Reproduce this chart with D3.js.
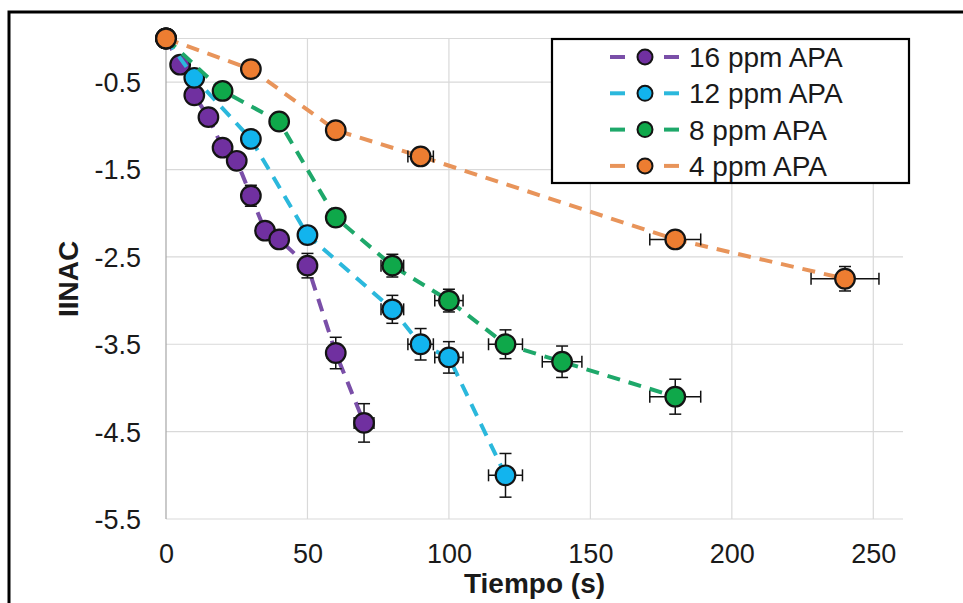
<!DOCTYPE html>
<html>
<head>
<meta charset="utf-8">
<script src="https://cdn.jsdelivr.net/npm/d3@7/dist/d3.min.js"></script>
<style>
  html, body { margin: 0; padding: 0; background: #ffffff; }
  svg { display: block; }
  text { font-family: Arial, "Liberation Sans", Helvetica, sans-serif; fill: #1a1a1a; }
</style>
</head>
<body>
<svg id="chart" width="963" height="603"></svg>
<script>
// ---- data ----
const seriesNames = ["16 ppm APA", "12 ppm APA", "8 ppm APA", "4 ppm APA"];
const seriesColors = ["#7030A0", "#12B4EE", "#0FA84A", "#ED7D31"];
const lineColors = ["#7A4FA8", "#2BB8DC", "#1EA86A", "#E8945A"];

const time16 = [0, 5, 10, 15, 20, 25, 30, 35, 40, 50, 60, 70];
const inac16 = [0, -0.3, -0.65, -0.9, -1.25, -1.4, -1.8, -2.2, -2.3, -2.6, -3.6, -4.4];
const yerr16 = [0, 0.04, 0.04, 0.05, 0.05, 0.06, 0.12, 0.08, 0.08, 0.14, 0.18, 0.22];
const xerr16 = [0, 0.25, 0.5, 0.75, 1, 1.25, 1.5, 1.75, 2, 2.5, 3, 3.5];

const time12 = [0, 10, 30, 50, 80, 90, 100, 120];
const inac12 = [0, -0.45, -1.15, -2.25, -3.1, -3.5, -3.65, -5.0];
const yerr12 = [0, 0.05, 0.06, 0.08, 0.16, 0.18, 0.18, 0.25];
const xerr12 = [0, 0.5, 1.5, 2.5, 4, 4.5, 5, 6];

const time8 = [0, 20, 40, 60, 80, 100, 120, 140, 180];
const inac8 = [0, -0.6, -0.95, -2.05, -2.6, -3.0, -3.5, -3.7, -4.1];
const yerr8 = [0, 0.05, 0.06, 0.08, 0.13, 0.13, 0.165, 0.18, 0.2];
const xerr8 = [0, 1, 2, 3, 4, 5, 6, 7, 9];

const time4 = [0, 30, 60, 90, 180, 240];
const inac4 = [0, -0.35, -1.05, -1.35, -2.3, -2.75];
const yerr4 = [0, 0.04, 0.05, 0.06, 0.08, 0.14];
const xerr4 = [0, 1.5, 3, 4.5, 9, 12];

const xTicks = [0, 50, 100, 150, 200, 250];
const yTicks = [-0.5, -1.5, -2.5, -3.5, -4.5, -5.5];
const xTitle = "Tiempo (s)";
const yTitle = "IINAC";

// ---- build ----
const series = [
  { t: time16, v: inac16, ye: yerr16, xe: xerr16 },
  { t: time12, v: inac12, ye: yerr12, xe: xerr12 },
  { t: time8, v: inac8, ye: yerr8, xe: xerr8 },
  { t: time4, v: inac4, ye: yerr4, xe: xerr4 }
].map((s, i) => ({
  name: seriesNames[i], color: seriesColors[i], lineColor: lineColors[i],
  pts: s.t.map((t, j) => ({ x: t, y: s.v[j], ye: s.ye[j], xe: s.xe[j] }))
}));

const svg = d3.select("#chart");
const plot = { left: 166, right: 903, top: 38.5, bottom: 519 };

const x = d3.scaleLinear().domain([0, 260.5]).range([plot.left, plot.right]);
const y = d3.scaleLinear().domain([-5.5, 0]).range([plot.bottom, plot.top]);

svg.append("rect").attr("width", 963).attr("height", 603).attr("fill", "#fff");

// outer frame (cropped)
svg.append("path")
  .attr("d", "M9,603 L9,12 L963,12")
  .attr("fill", "none").attr("stroke", "#000").attr("stroke-width", 3);

// gridlines
const grid = svg.append("g");
grid.selectAll("line.h").data(yTicks.concat([0])).enter().append("line")
  .attr("x1", plot.left).attr("x2", plot.right)
  .attr("y1", d => y(d)).attr("y2", d => y(d))
  .attr("stroke", "#d9d9d9").attr("stroke-width", 1.2);
grid.selectAll("line.v").data(xTicks.filter(d => d > 0)).enter().append("line")
  .attr("x1", d => x(d)).attr("x2", d => x(d))
  .attr("y1", plot.top).attr("y2", plot.bottom)
  .attr("stroke", "#d9d9d9").attr("stroke-width", 1.2);
// left axis line
svg.append("line").attr("x1", x(0)).attr("x2", x(0))
  .attr("y1", plot.top).attr("y2", plot.bottom)
  .attr("stroke", "#a6a6a6").attr("stroke-width", 1.2);

// axes (labels only) via d3 axes
const yAxis = svg.append("g").attr("transform", `translate(${plot.left - 25},0)`)
  .call(d3.axisLeft(y).tickValues(yTicks).tickSize(0).tickPadding(0).tickFormat(d => d.toFixed(1)));
yAxis.select(".domain").remove();
yAxis.selectAll("text").attr("font-size", 27).attr("fill", "#1a1a1a")
  .attr("font-family", "Arial, 'Liberation Sans', sans-serif").attr("dy", "0.35em");

const xAxis = svg.append("g").attr("transform", `translate(0,${plot.bottom + 44})`)
  .call(d3.axisBottom(x).tickValues(xTicks).tickSize(0).tickPadding(0).tickFormat(d => String(d)));
xAxis.select(".domain").remove();
xAxis.selectAll("text").attr("font-size", 27).attr("fill", "#1a1a1a")
  .attr("font-family", "Arial, 'Liberation Sans', sans-serif").attr("dy", 0);

// axis titles
svg.append("text").attr("x", (plot.left + plot.right) / 2).attr("y", 593)
  .attr("text-anchor", "middle").attr("font-size", 28).attr("font-weight", "bold").text(xTitle);
svg.append("text").attr("transform", "translate(78,279) rotate(-90)")
  .attr("text-anchor", "middle").attr("font-size", 28).attr("font-weight", "bold").text(yTitle);

// series
const line = d3.line().x(d => x(d.x)).y(d => y(d.y));
const cap = 6;
series.forEach(s => {
  const g = svg.append("g");
  g.append("path").datum(s.pts).attr("d", line)
    .attr("fill", "none").attr("stroke", s.lineColor).attr("stroke-width", 4)
    .attr("stroke-dasharray", "13,9");
  const eb = g.append("g").attr("stroke", "#111").attr("stroke-width", 1.5).attr("fill", "none");
  s.pts.filter(d => d.ye > 0 || d.xe > 0).forEach(d => {
    const cx = x(d.x), cy = y(d.y);
    const y1 = y(d.y + d.ye), y2 = y(d.y - d.ye);
    const x1 = x(d.x - d.xe), x2 = x(d.x + d.xe);
    eb.append("line").attr("x1", cx).attr("x2", cx).attr("y1", y1).attr("y2", y2);
    eb.append("line").attr("x1", cx - cap).attr("x2", cx + cap).attr("y1", y1).attr("y2", y1);
    eb.append("line").attr("x1", cx - cap).attr("x2", cx + cap).attr("y1", y2).attr("y2", y2);
    eb.append("line").attr("x1", x1).attr("x2", x2).attr("y1", cy).attr("y2", cy);
    eb.append("line").attr("x1", x1).attr("x2", x1).attr("y1", cy - cap).attr("y2", cy + cap);
    eb.append("line").attr("x1", x2).attr("x2", x2).attr("y1", cy - cap).attr("y2", cy + cap);
  });
  g.selectAll("circle").data(s.pts).enter().append("circle")
    .attr("cx", d => x(d.x)).attr("cy", d => y(d.y)).attr("r", 9.8)
    .attr("fill", s.color).attr("stroke", "#141414").attr("stroke-width", 2.2);
});

// legend
const lg = svg.append("g");
lg.append("rect").attr("x", 552).attr("y", 39).attr("width", 357).attr("height", 144)
  .attr("fill", "#fff").attr("stroke", "#000").attr("stroke-width", 2.2);
series.forEach((s, i) => {
  const cy = 57 + i * 36.3;
  const row = lg.append("g");
  row.append("line").attr("x1", 610).attr("x2", 625).attr("y1", cy).attr("y2", cy)
    .attr("stroke", s.lineColor).attr("stroke-width", 4);
  row.append("line").attr("x1", 664).attr("x2", 679).attr("y1", cy).attr("y2", cy)
    .attr("stroke", s.lineColor).attr("stroke-width", 4);
  row.append("circle").attr("cx", 645).attr("cy", cy).attr("r", 7.5)
    .attr("fill", s.color).attr("stroke", "#141414").attr("stroke-width", 2);
  row.append("text").attr("x", 689).attr("y", cy + 10).attr("font-size", 28).text(s.name);
});
</script>
</body>
</html>
